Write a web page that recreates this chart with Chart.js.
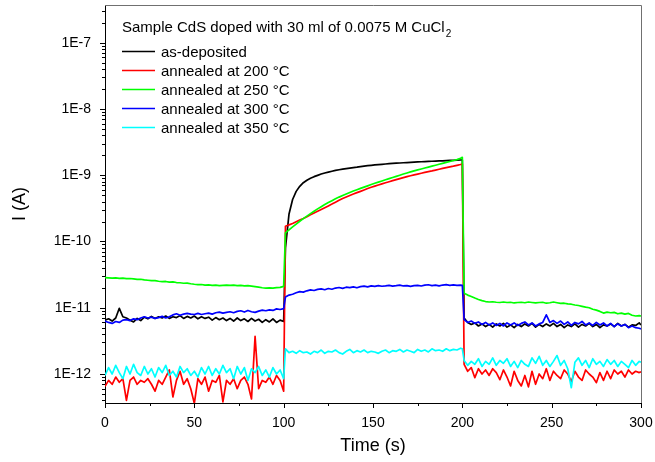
<!DOCTYPE html>
<html><head><meta charset="utf-8">
<script src="https://cdn.jsdelivr.net/npm/chart.js@4/dist/chart.umd.min.js"></script>
<style>html,body{margin:0;padding:0;background:#fff;}</style>
</head><body>
<canvas id="c" width="655" height="462"></canvas>
<script>
// Sample times (s)
const time = [
  0,2,4,6,8,10,12,14,16,18,20,22,24,26,28,30,32,34,36,38,40,42,44,46,48,50,52,54,56,58,60,62,64,66,68,70,72,74,76,78,80,82,84,86,88,90,92,94,96,98,100,
  101,103,105,107,109,111,113,115,117,119,121,123,125,127,129,131,133,135,137,139,141,143,145,147,149,151,153,155,157,159,161,163,165,167,169,171,173,175,177,179,181,183,185,187,189,191,193,195,197,199,200,
  201,203,205,207,209,211,213,215,217,219,221,223,225,227,229,231,233,235,237,239,241,243,245,247,249,251,253,255,257,259,261,263,265,267,269,271,273,275,277,279,281,283,285,287,289,291,293,295,297,299,300
];
// Current values in pA
const UNIT = 1e-12;
const asDeposited = [
  6.5,6.8,6.3,7.0,9.8,7.3,7.0,6.5,6.1,6.9, 6.4,7.2,6.8,7.4,6.9,7.3,7.0,7.5,6.9,7.3, 7.1,7.6,6.9,7.4,7.0,7.5,6.8,7.3,6.9,7.2, 6.5,7.1,6.6,7.0,6.4,6.9,6.3,7.0,6.4,6.8, 6.2,6.9,6.3,6.7,6.0,6.6,6.1,6.8,6.0,6.5, 6.2,
  80,260,430,570,680,770,840,900,950,995, 1040,1080,1115,1148,1180,1208,1235,1260,1282,1302, 1320,1345,1370,1390,1410,1430,1445,1460,1475,1490, 1503,1516,1528,1540,1552,1563,1574,1585,1595,1605, 1614,1623,1632,1641,1650,1659,1668,1677,1686,1695, 1700,
  7.0,6.0,5.6,5.9,5.3,5.7,5.2,5.6,5.1,5.7, 5.3,5.8,5.1,5.5,5.0,5.6,5.2,5.7,5.3,5.8, 5.1,5.6,5.2,5.7,5.3,5.8,5.2,5.6,5.0,5.5, 5.2,5.7,5.1,5.6,5.3,5.8,5.2,5.6,5.0,5.5, 5.3,5.7,5.2,5.8,5.3,5.6,5.1,5.5,5.4,5.9, 5.5
];
const annealed200 = [
  0.65,0.8,0.7,0.9,0.75,0.85,0.4,0.8,0.9,0.7, 0.8,0.75,0.85,0.7,0.55,0.8,0.7,0.9,1.15,0.45, 0.8,1.1,0.7,0.85,0.6,0.36,0.85,0.7,0.9,0.55, 0.8,0.75,0.95,0.38,0.8,0.7,0.85,0.6,0.8,0.9, 0.7,0.42,3.7,0.6,0.8,0.75,0.9,0.7,0.95,0.8, 0.55,
  170,178,187,198,210,222,236,252,268,285, 303,322,343,366,392,418,445,470,495,520, 545,570,598,628,658,685,712,740,768,797, 827,857,888,920,950,980,1010,1040,1070,1100, 1130,1160,1195,1230,1265,1300,1335,1370,1410,1450, 1480,
  1.4,1.1,1.25,0.88,1.2,1.0,1.15,0.95,1.2,1.05, 0.82,1.15,0.9,0.66,1.1,0.8,0.66,0.95,0.64,1.1, 0.7,1.0,0.85,1.2,0.8,1.1,0.95,0.85,1.15,1.0, 0.77,1.1,0.9,0.8,1.15,1.0,0.9,0.74,1.05,0.8, 1.1,0.85,1.15,1.0,1.1,0.9,1.15,1.0,1.1,1.05, 1.08
];
const annealed250 = [
  28.5,28.3,28.0,28.2,27.8,27.9,27.5,27.6,27.2,26.8, 26.9,26.3,26.0,25.6,25.7,25.1,24.8,24.9,24.4,24.5, 24.0,23.8,23.4,23.5,23.0,22.6,22.3,22.4,22.0,22.1, 21.8,21.9,21.6,21.8,22.0,21.7,21.9,21.5,21.8,21.4, 21.6,21.2,20.8,20.4,20.0,19.8,19.9,19.8,20.1,20.3, 21.0,
  135,150,166,183,202,221,241,263,286,310, 335,361,387,413,440,467,494,521,548,576, 604,632,661,691,722,754,786,819,853,888, 923,960,1000,1040,1080,1120,1160,1200,1240,1282, 1325,1370,1415,1462,1510,1560,1612,1665,1720,1800, 1860,
  16.5,15.5,14.8,14.0,13.3,12.8,12.4,12.2,12.3,12.1, 12.0,12.2,12.0,12.1,11.8,12.0,12.1,11.9,12.2,12.0, 11.8,12.0,12.1,11.7,11.9,12.2,11.9,11.6,11.7,11.4, 11.3,11.0,10.8,10.5,10.2,10.0,9.5,9.2,8.8,8.3, 8.6,8.4,8.5,8.1,8.3,8.0,8.2,7.7,7.5,7.6, 7.5
];
const annealed300 = [
  6.3,6.0,5.8,6.2,6.0,6.5,6.6,6.4,6.8,6.6, 7.0,7.3,7.0,7.2,6.9,7.1,7.4,7.0,7.3,7.8, 8.1,7.7,8.0,8.2,8.0,7.9,8.2,7.9,8.1,8.3, 8.0,8.4,8.6,8.3,8.5,8.7,8.4,8.8,9.0,8.6, 9.1,8.7,8.5,8.9,9.2,9.0,9.3,9.1,9.6,9.4, 9.7,
  14.5,15.5,16.0,16.8,17.5,17.2,18.0,18.6,18.2,18.9, 19.2,18.7,19.5,19.0,19.8,20.2,19.6,20.4,20.1,20.6, 20.0,20.8,21.2,20.6,21.4,21.0,21.6,21.1,21.3,21.7, 21.2,21.5,21.9,21.3,21.6,21.0,21.5,21.8,21.3,21.9, 22.2,21.6,21.9,21.4,22.0,22.3,21.8,22.1,21.7,21.9, 21.8,
  6.6,6.0,6.3,5.8,6.1,5.6,6.0,5.5,5.9,5.4, 5.8,5.3,5.9,5.5,5.9,5.4,5.8,6.1,5.5,5.9, 5.3,5.7,6.0,7.8,6.0,6.4,5.8,6.3,5.6,6.1, 5.4,6.0,5.7,6.2,5.5,5.9,5.4,6.0,5.5,5.9, 5.3,5.8,5.2,5.7,5.3,5.6,5.0,5.3,5.0,4.9, 4.8
];
const annealed350 = [
  0.95,1.25,1.0,1.35,1.05,0.85,1.3,1.0,1.4,1.05, 0.95,1.3,1.0,1.2,0.9,1.25,1.05,1.35,0.95,1.1, 0.9,1.3,1.05,1.2,0.95,1.1,0.9,1.25,1.0,1.3, 0.95,1.2,1.0,1.35,1.05,1.2,0.85,1.3,1.0,1.25, 0.8,1.2,1.05,1.3,0.95,1.15,0.9,1.25,1.0,1.15, 0.85,
  2.4,2.1,2.2,2.05,2.25,2.1,2.15,2.0,2.2,2.1, 2.3,2.05,2.2,2.15,2.3,2.1,2.0,2.2,2.35,2.1, 2.25,2.15,2.3,2.1,2.2,2.15,2.05,2.2,2.3,2.1, 2.25,2.2,2.35,2.15,2.3,2.2,2.1,2.35,2.2,2.3, 2.15,2.4,2.25,2.3,2.2,2.4,2.25,2.35,2.3,2.45, 2.4,
  1.6,1.35,1.55,1.4,1.7,1.3,1.55,1.4,1.75,1.35, 1.6,1.45,1.7,1.3,1.55,1.25,1.6,1.4,1.3,1.75, 1.45,1.85,1.35,1.6,1.3,1.55,1.9,1.35,1.6,1.2, 0.62,1.5,1.75,1.35,1.6,1.25,1.7,1.4,1.55,1.3, 1.65,1.4,1.6,1.3,1.55,1.4,1.25,1.6,1.35,1.55, 1.5
];
const seriesLabels = ['as-deposited','annealed at 200 °C','annealed at 250 °C','annealed at 300 °C','annealed at 350 °C'];
const seriesColors = ['#000000','#ff0000','#00ff00','#0000ff','#00ffff'];
const seriesValues = [asDeposited, annealed200, annealed250, annealed300, annealed350];
const legendTitle = 'Sample CdS doped with 30 ml of 0.0075 M CuCl';
const legendTitleSub = '2';
const xTicks = [0,50,100,150,200,250,300];
const xMinorTicks = [25,75,125,175,225,275];
const yTicks = [1e-12,1e-11,1e-10,1e-9,1e-8,1e-7];
const yMin = 3.65e-13, yMax = 3.7e-7;

const FONT = '"Liberation Sans", Arial, Helvetica, sans-serif';
Chart.defaults.font.family = FONT;
Chart.defaults.color = '#000';

const datasets = seriesValues.map((vals, i) => ({
  label: seriesLabels[i],
  data: time.map((t, k) => ({x: t, y: vals[k] * UNIT})),
  borderColor: seriesColors[i],
  backgroundColor: seriesColors[i],
  borderWidth: 1.7,
  pointRadius: 0,
  tension: 0,
  fill: false,
  order: seriesValues.length - 1 - i
}));

const decor = {
  id: 'decor',
  afterDraw(chart) {
    const {ctx, chartArea: a, scales: {x, y}} = chart;
    ctx.save();
    // frame (top/right)
    ctx.strokeStyle = '#707070'; ctx.lineWidth = 1;
    ctx.beginPath();
    ctx.moveTo(a.left, a.top + 0.5); ctx.lineTo(a.right + 0.5, a.top + 0.5);
    ctx.lineTo(a.right + 0.5, a.bottom);
    ctx.stroke();
    // ticks
    ctx.strokeStyle = '#000';
    ctx.beginPath();
    const xb = a.bottom;
    xTicks.forEach(v => { const p = Math.round(x.getPixelForValue(v)) + 0.5; ctx.moveTo(p, xb); ctx.lineTo(p, xb + 5); });
    xMinorTicks.forEach(v => { const p = Math.round(x.getPixelForValue(v)) + 0.5; ctx.moveTo(p, xb); ctx.lineTo(p, xb + 3); });
    const yl = a.left;
    yTicks.forEach(v => { const p = Math.round(y.getPixelForValue(v)) + 0.5; ctx.moveTo(yl, p); ctx.lineTo(yl - 5, p); });
    for (let e = -13; e <= -7; e++) {
      for (let m = 2; m <= 9; m++) {
        const v = m * Math.pow(10, e);
        if (v < yMin || v > yMax) continue;
        const p = Math.round(y.getPixelForValue(v)) + 0.5;
        ctx.moveTo(yl, p); ctx.lineTo(yl - 3, p);
      }
    }
    ctx.stroke();
    // legend
    ctx.fillStyle = '#000';
    ctx.textBaseline = 'alphabetic';
    ctx.textAlign = 'left';
    ctx.font = '15px ' + FONT;
    const lx = 122;
    ctx.fillText(legendTitle, lx, 31.5);
    const w = ctx.measureText(legendTitle).width;
    ctx.font = '10px ' + FONT;
    ctx.fillText(legendTitleSub, lx + w + 1, 37);
    ctx.font = '15px ' + FONT;
    seriesLabels.forEach((lab, i) => {
      const ry = 51.5 + 19 * i;
      ctx.strokeStyle = seriesColors[i];
      ctx.lineWidth = 1.7;
      ctx.beginPath(); ctx.moveTo(lx, ry); ctx.lineTo(lx + 33, ry); ctx.stroke();
      ctx.fillText(lab, lx + 39, ry + 5.5);
    });
    ctx.restore();
  }
};

new Chart(document.getElementById('c'), {
  type: 'line',
  data: {datasets},
  options: {
    responsive: false,
    animation: false,
    devicePixelRatio: 1,
    layout: {padding: {top: 5, right: 14, left: 0, bottom: 0}},
    plugins: {legend: {display: false}, tooltip: {enabled: false}},
    elements: {line: {borderJoinStyle: 'round'}},
    scales: {
      x: {
        type: 'linear', min: 0, max: 300,
        afterFit(s) { s.height = 59; s.paddingLeft = 0; s.paddingRight = 0; s.paddingTop = 0; s.paddingBottom = 0; },
        afterBuildTicks(s) { s.ticks = xTicks.map(v => ({value: v})); },
        ticks: {padding: 12, color: '#000', font: {size: 14}, maxRotation: 0, autoSkip: false},
        grid: {display: false, drawTicks: false},
        border: {display: true, color: '#000', width: 1},
        title: {display: true, text: 'Time (s)', color: '#000', font: {size: 18}, padding: {top: 0, bottom: 5}}
      },
      y: {
        type: 'logarithmic', min: yMin, max: yMax,
        afterFit(s) { s.width = 105; s.paddingLeft = 0; s.paddingRight = 0; s.paddingTop = 0; s.paddingBottom = 0; },
        afterBuildTicks(s) { s.ticks = yTicks.map(v => ({value: v})); },
        ticks: {padding: 14, color: '#000', font: {size: 14}, autoSkip: false,
          callback: v => '1E' + Math.round(Math.log10(v))},
        grid: {display: false, drawTicks: false},
        border: {display: true, color: '#000', width: 1},
        title: {display: true, text: 'I (A)', color: '#000', font: {size: 18}, padding: {top: 9, bottom: 0}}
      }
    }
  },
  plugins: [decor]
});
</script>
</body></html>
